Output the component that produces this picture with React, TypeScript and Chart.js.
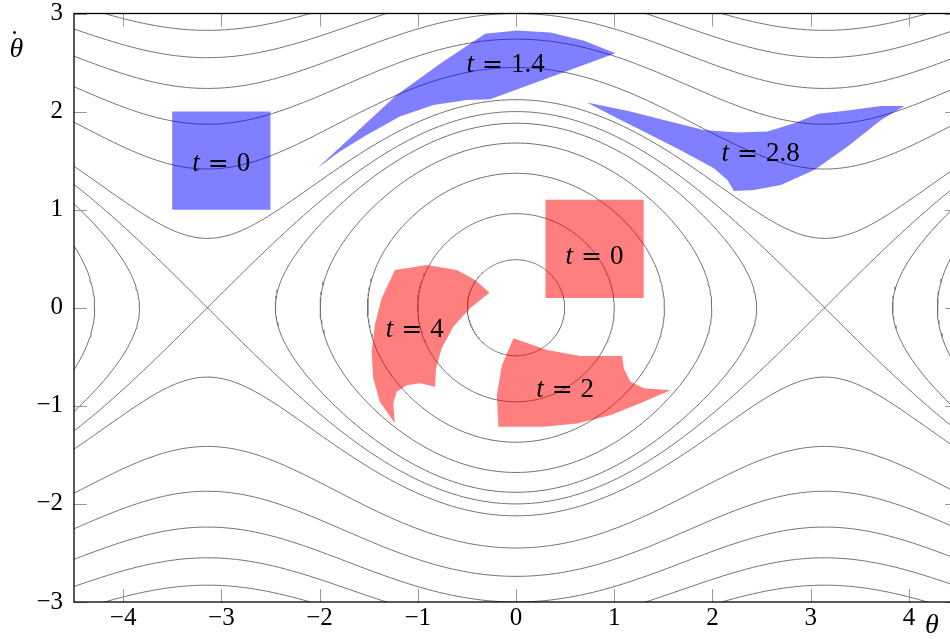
import React, { useEffect, useRef } from "react";
import { Chart, registerables } from "chart.js";

Chart.register(...registerables);

// ---------- data ----------
const xTicks = [-4, -3, -2, -1, 0, 1, 2, 3, 4];
const yTicks = [-3, -2, -1, 0, 1, 2, 3];
const xLimits = [-4.5, 4.5];
const yLimits = [-3, 3];

// Energy levels of the drawn orbits, E = θ̇²/2 − cos θ, read from where each
// line crosses θ = 0, θ = ±π and the left edge of the plot.
const closedLevels = [-0.88, -0.54, -0.06, 0.41, 0.77];
const separatrixLevels = [1.0];
const openLevels = [1.25, 2.0, 2.75, 3.5, 4.25, 5.0];
const wellCenters = [-2 * Math.PI, 0, 2 * Math.PI];

// Regions, as [θ, θ̇] outline points
const blueStart = [[-3.5, 1], [-2.5, 1], [-2.5, 2], [-3.5, 2]];
const blueT14 = [
  [-0.314, 2.793], [0.009, 2.827], [0.349, 2.806], [0.686, 2.724], [1.013, 2.596],
  [-0.263, 2.127], [-0.501, 2.119], [-0.842, 2.068], [-1.182, 1.949], [-1.521, 1.762],
  [-1.794, 1.592], [-2.026, 1.419], [-1.215, 2.17], [-0.74, 2.51],
];
const blueT28 = [
  [0.723, 2.092], [1.165, 2.0], [1.505, 1.915], [1.913, 1.813], [2.254, 1.786],
  [2.56, 1.796], [2.832, 1.882], [3.077, 1.977], [3.377, 2.01], [3.716, 2.058],
  [3.954, 2.058], [3.716, 1.915], [3.377, 1.643], [3.036, 1.405], [2.696, 1.252],
  [2.423, 1.201], [2.219, 1.191], [2.152, 1.303], [2.015, 1.422], [1.676, 1.605],
  [1.336, 1.78], [0.995, 1.949],
];
const redStart = [[0.3, 0.1], [1.3, 0.1], [1.3, 1.1], [0.3, 1.1]];
const redT2 = [
  [-0.026, -0.312], [0.315, -0.432], [0.655, -0.493], [1.081, -0.493], [1.097, -0.618],
  [1.165, -0.755], [1.301, -0.822], [1.573, -0.84], [1.301, -0.959], [0.961, -1.095],
  [0.621, -1.18], [0.281, -1.214], [-0.179, -1.214], [-0.195, -0.891], [-0.144, -0.585],
];
const redT4 = [
  [-1.233, 0.385], [-0.909, 0.436], [-0.603, 0.385], [-0.416, 0.283], [-0.27, 0.153],
  [-0.467, -0.006], [-0.638, -0.194], [-0.756, -0.414], [-0.814, -0.618], [-0.824, -0.806],
  [-0.978, -0.771], [-1.113, -0.789], [-1.215, -0.857], [-1.25, -0.976], [-1.233, -1.18],
  [-1.386, -0.959], [-1.454, -0.72], [-1.47, -0.449], [-1.437, -0.177], [-1.368, 0.096],
];

const labelTimes = ["0", "1.4", "2.8", "0", "4", "2"];
const labelTheta = [-3.0, -0.105, 2.49, 0.8, -1.03, 0.5];
const labelOmega = [1.49, 2.5, 1.59, 0.54, -0.2, -0.82];

// ---------- helpers ----------
type P = { x: number; y: number };
const toPts = (a: number[][]): P[] => a.map(([x, y]) => ({ x, y }));

function closedOrbit(E: number, c: number): P[] {
  const amp = Math.acos(-E);
  const n = 260;
  const pts: P[] = [];
  for (let k = 0; k <= n; k++) {
    const phi = (2 * Math.PI * k) / n;
    const th = amp * Math.cos(phi);
    const s = k === 0 || k === n || k === n / 2 ? 0 : Math.sign(Math.sin(phi));
    const v = s * Math.sqrt(Math.max(0, 2 * (E + Math.cos(th))));
    pts.push({ x: c + th, y: v });
  }
  return pts;
}

function openOrbit(E: number, sgn: number): P[] {
  const n = 380;
  const lo = xLimits[0] - 0.12;
  const hi = xLimits[1] + 0.12;
  const ths: number[] = [];
  for (let k = 0; k <= n; k++) ths.push(lo + ((hi - lo) * k) / n);
  ths.push(-Math.PI, Math.PI);
  ths.sort((a, b) => a - b);
  return ths.map((th) => ({ x: th, y: sgn * Math.sqrt(Math.max(0, 2 * (E + Math.cos(th)))) }));
}

const fmt = (v: number) => (v < 0 ? "\u2212" + Math.abs(v) : String(v));

const SERIF = '"Liberation Serif", "Times New Roman", serif';

function drawTimeLabel(ctx: CanvasRenderingContext2D, cx: number, cy: number, value: string) {
  const fs = 27;
  const fItalic = `italic ${fs}px ${SERIF}`;
  const fUp = `${fs}px ${SERIF}`;
  const fEq = `${fs - 2}px "DejaVu Serif", serif`;
  ctx.font = fItalic;
  const wt = ctx.measureText("t").width;
  ctx.font = fEq;
  const we = ctx.measureText("=").width;
  ctx.font = fUp;
  const wn = ctx.measureText(value).width;
  const gap = 8;
  const total = wt + gap + we + gap + wn;
  let x0 = cx - total / 2;
  const base = cy + 0.34 * fs;
  ctx.textAlign = "left";
  ctx.textBaseline = "alphabetic";
  ctx.fillStyle = "#000";
  ctx.font = fItalic;
  ctx.fillText("t", x0, base);
  x0 += wt + gap;
  ctx.font = fEq;
  ctx.fillText("=", x0, base);
  x0 += we + gap;
  ctx.font = fUp;
  ctx.fillText(value, x0, base);
}

const overlay = {
  id: "overlay",
  afterDraw(chart: any) {
    const { ctx, chartArea: a, scales } = chart;
    const xs = scales.x;
    const ys = scales.y;
    ctx.save();

    // time labels
    for (let i = 0; i < labelTimes.length; i++) {
      drawTimeLabel(ctx, xs.getPixelForValue(labelTheta[i]), ys.getPixelForValue(labelOmega[i]), labelTimes[i]);
    }

    // inward tick marks on all four sides
    const tl = 13;
    ctx.strokeStyle = "#9a9a9a";
    ctx.lineWidth = 1;
    ctx.beginPath();
    for (const t of xTicks) {
      const px = Math.round(xs.getPixelForValue(t)) + 0.5;
      ctx.moveTo(px, a.bottom);
      ctx.lineTo(px, a.bottom - tl);
      ctx.moveTo(px, a.top);
      ctx.lineTo(px, a.top + tl);
    }
    for (const t of yTicks) {
      const py = Math.round(ys.getPixelForValue(t)) + 0.5;
      ctx.moveTo(a.left, py);
      ctx.lineTo(a.left + tl, py);
      ctx.moveTo(a.right, py);
      ctx.lineTo(a.right - tl, py);
    }
    ctx.stroke();

    // frame
    ctx.strokeStyle = "#000";
    ctx.lineWidth = 1.3;
    ctx.strokeRect(a.left, a.top, a.right - a.left, a.bottom - a.top);

    // axis titles
    ctx.fillStyle = "#000";
    ctx.textAlign = "center";
    ctx.textBaseline = "alphabetic";
    ctx.font = `italic 28px ${SERIF}`;
    const yx = a.left - 57.5;
    const yb = a.top + 43.5;
    ctx.fillText("\u03B8", yx, yb);
    ctx.font = `26px ${SERIF}`;
    ctx.fillText(".", yx - 2, a.top + 20);
    ctx.font = `italic 28px ${SERIF}`;
    ctx.fillText("\u03B8", xs.getPixelForValue(4) + 23, a.bottom + 31);

    ctx.restore();
  },
};

export default function App() {
  const ref = useRef<HTMLCanvasElement | null>(null);

  useEffect(() => {
    document.documentElement.style.overflow = "hidden";
    document.body.style.overflow = "hidden";
    const canvas = ref.current;
    if (!canvas) return;

    const contourStyle = {
      borderColor: "rgb(112,112,112)",
      borderWidth: 1,
      pointRadius: 0,
      fill: false,
      tension: 0,
      order: 1,
    };
    const datasets: any[] = [];

    for (const c of wellCenters) {
      for (const E of closedLevels) {
        datasets.push({ ...contourStyle, data: closedOrbit(E, c) });
      }
    }
    for (const E of [...separatrixLevels, ...openLevels]) {
      datasets.push({ ...contourStyle, data: openOrbit(E, 1) });
      datasets.push({ ...contourStyle, data: openOrbit(E, -1) });
    }

    const regionStyle = (color: string) => ({
      backgroundColor: color,
      borderColor: "rgba(0,0,0,0)",
      borderWidth: 0,
      pointRadius: 0,
      fill: "shape",
      tension: 0,
      order: 0,
    });
    const blue = "rgba(0,0,255,0.5)";
    const red = "rgba(255,0,0,0.5)";
    for (const poly of [blueStart, blueT14, blueT28]) {
      datasets.push({ ...regionStyle(blue), data: toPts([...poly, poly[0]]) });
    }
    for (const poly of [redStart, redT2, redT4]) {
      datasets.push({ ...regionStyle(red), data: toPts([...poly, poly[0]]) });
    }

    const tickFont = { family: SERIF, size: 25, lineHeight: 1 };

    const chart = new Chart(canvas, {
      type: "line",
      data: { datasets },
      options: {
        animation: false,
        responsive: false,
        events: [],
        layout: { padding: { top: 13.5, right: 12, left: 0, bottom: 0 } },
        plugins: { legend: { display: false }, tooltip: { enabled: false } },
        scales: {
          x: {
            type: "linear",
            min: xLimits[0],
            max: xLimits[1],
            grid: { display: false, drawTicks: false },
            border: { display: false },
            afterBuildTicks: (s: any) => {
              s.ticks = xTicks.map((value) => ({ value }));
            },
            afterFit: (s: any) => {
              s.height = 37;
              s.paddingLeft = 0;
              s.paddingRight = 0;
            },
            ticks: {
              font: tickFont,
              color: "#000",
              padding: 4,
              maxRotation: 0,
              autoSkip: false,
              callback: (v: any) => fmt(Number(v)),
            },
          },
          y: {
            type: "linear",
            min: yLimits[0],
            max: yLimits[1],
            grid: { display: false, drawTicks: false },
            border: { display: false },
            afterBuildTicks: (s: any) => {
              s.ticks = yTicks.map((value) => ({ value }));
            },
            afterFit: (s: any) => {
              s.width = 74;
              s.paddingTop = 0;
              s.paddingBottom = 0;
            },
            ticks: {
              font: tickFont,
              color: "#000",
              padding: 11,
              autoSkip: false,
              callback: (v: any) => fmt(Number(v)),
            },
          },
        },
      } as any,
      plugins: [overlay as any],
    });

    return () => chart.destroy();
  }, []);

  return (
    <div style={{ position: "fixed", left: 0, top: 0, width: 970, height: 639, background: "#fff" }}>
      <canvas ref={ref} width={970} height={639} style={{ width: 970, height: 639, display: "block" }} />
    </div>
  );
}
